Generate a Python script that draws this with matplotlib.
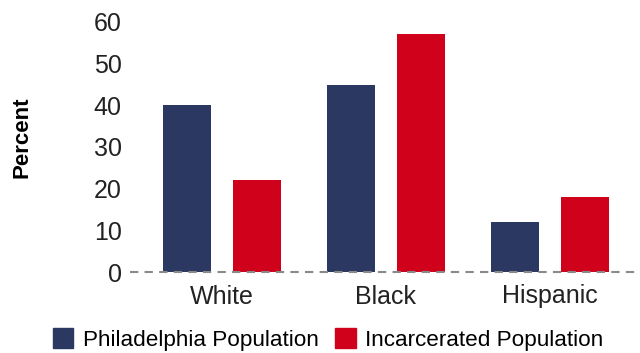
import numpy as np
import matplotlib
matplotlib.use("Agg")
import matplotlib.pyplot as plt
from matplotlib.patches import Patch

plt.rcParams["font.family"] = ["Liberation Sans", "DejaVu Sans"]

# -------------------------
# data
# -------------------------
groups = ["White", "Black", "Hispanic"]
philly_pop = [40, 45, 12]
incarcerated_pop = [22, 57, 18]
series_names = ["Philadelphia Population", "Incarcerated Population"]

NAVY = "#2b3862"
RED = "#d0021b"

fig = plt.figure(figsize=(6.4, 3.53), dpi=100)
ax = fig.add_axes([130 / 640, 1 - 272 / 353, 510 / 640, 250 / 353])

x = np.arange(len(groups))
w = 0.293
off = 0.213
ax.bar(x - off, philly_pop, width=w, color=NAVY)
ax.bar(x + off, incarcerated_pop, width=w, color=RED)

ax.axhline(0, color="#8a8a8a", linestyle=(0, (4, 3)), linewidth=1.5, zorder=3, clip_on=False)

ax.set_xlim(-0.56, 2.55)
ax.set_ylim(0, 60)
ax.set_yticks(range(0, 61, 10))
ax.set_xticks(x)
ax.set_xticklabels(groups)
ax.tick_params(axis="both", length=0, labelsize=18, colors="#222222")
ax.tick_params(axis="y", pad=6)
ax.tick_params(axis="x", pad=9)
for s in ax.spines.values():
    s.set_visible(False)

ax.set_ylabel("Percent", fontsize=16, fontweight="bold")
ax.yaxis.set_label_coords(-0.192, 0.54)

handles = [Patch(color=NAVY), Patch(color=RED)]
fig.legend(handles, series_names, loc="upper left", bbox_to_anchor=(53 / 640, 1 - 328 / 353),
           ncol=2, frameon=False, fontsize=16.2, handlelength=0.9, handleheight=1.0,
           handletextpad=0.42, columnspacing=0.75, borderaxespad=0, borderpad=0)

fig.savefig("out.png", dpi=100)
